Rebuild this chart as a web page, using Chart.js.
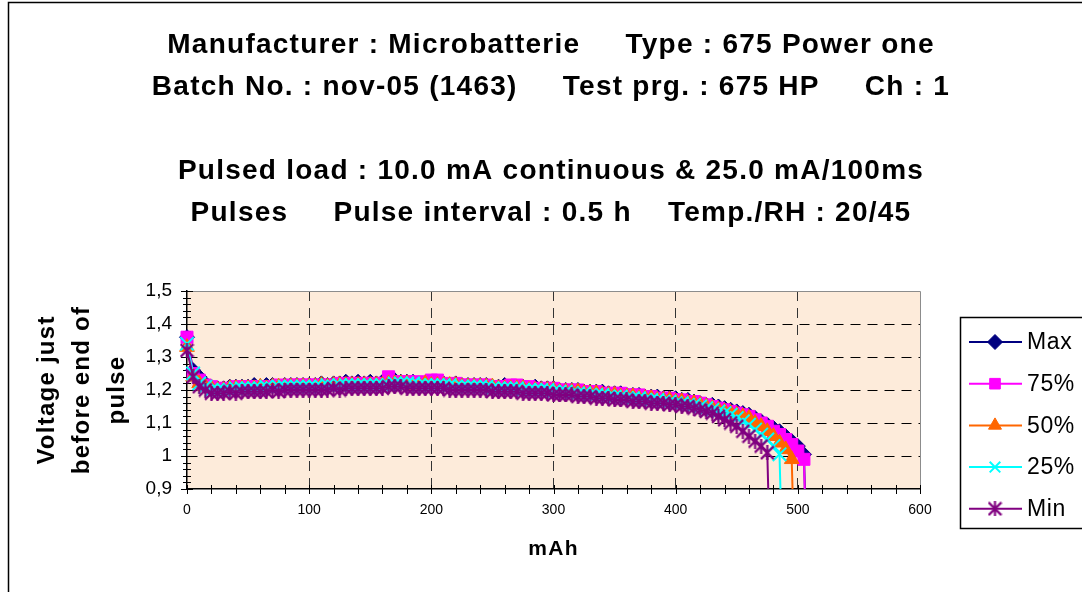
<!DOCTYPE html>
<html><head><meta charset="utf-8">
<script src="https://cdn.jsdelivr.net/npm/chart.js@4.4.0/dist/chart.umd.min.js"></script>
<style>html,body{margin:0;padding:0;background:#fff}#wrap{position:relative;width:1082px;height:592px}</style>
</head><body><div id="wrap"><canvas id="c" width="1082" height="592"></canvas></div>
<script>
// ---------- data ----------
const mAh = [0,5,10,15,20,25,30,35,40,45,
 50,55,60,65,70,75,80,85,90,95,
 100,105,110,115,120,125,130,135,140,145,
 150,155,160,165,170,175,180,185,190,195,
 200,205,210,215,220,225,230,235,240,245,
 250,255,260,265,270,275,280,285,290,295,
 300,305,310,315,320,325,330,335,340,345,
 350,355,360,365,370,375,380,385,390,395,
 400,405,410,415,420,425,430,435,440,445,
 450,455,460,465,470,475,480,485,490,495,
 500,505,510];

const seriesMax = [1.36,1.26,1.24,1.22,1.21,1.205,1.205,1.21,1.21,1.21,
 1.21,1.215,1.21,1.215,1.215,1.21,1.215,1.215,1.215,1.215,
 1.215,1.215,1.22,1.215,1.22,1.22,1.225,1.22,1.225,1.22,
 1.225,1.22,1.225,1.225,1.23,1.225,1.225,1.225,1.22,1.22,
 1.22,1.22,1.22,1.215,1.22,1.215,1.215,1.215,1.215,1.215,
 1.21,1.21,1.215,1.21,1.21,1.21,1.205,1.21,1.205,1.205,
 1.205,1.2,1.2,1.2,1.2,1.195,1.195,1.195,1.195,1.19,
 1.19,1.19,1.185,1.185,1.185,1.18,1.18,1.18,1.175,1.175,
 1.175,1.17,1.17,1.165,1.16,1.155,1.155,1.15,1.145,1.14,
 1.135,1.13,1.125,1.115,1.105,1.095,1.085,1.075,1.06,1.045,
 1.03,1.005,0.3];

const series75 = [1.36,1.25,1.23,1.215,1.21,1.205,1.205,1.205,1.21,1.21,
 1.21,1.21,1.21,1.21,1.21,1.215,1.21,1.215,1.215,1.215,
 1.215,1.215,1.215,1.215,1.215,1.22,1.22,1.22,1.22,1.22,
 1.22,1.22,1.22,1.24,1.225,1.225,1.225,1.225,1.22,1.225,
 1.23,1.23,1.22,1.215,1.22,1.215,1.215,1.215,1.215,1.215,
 1.21,1.21,1.21,1.215,1.215,1.21,1.21,1.205,1.205,1.205,
 1.205,1.2,1.2,1.2,1.2,1.195,1.195,1.195,1.19,1.19,
 1.19,1.19,1.185,1.185,1.185,1.18,1.18,1.175,1.175,1.175,
 1.17,1.17,1.165,1.165,1.16,1.155,1.15,1.145,1.14,1.135,
 1.13,1.125,1.12,1.11,1.10,1.09,1.075,1.065,1.05,1.035,
 1.015,0.99,0.3];

const series50 = [1.33,1.24,1.22,1.21,1.205,1.2,1.2,1.205,1.205,1.205,
 1.205,1.205,1.21,1.205,1.21,1.21,1.21,1.21,1.21,1.21,
 1.21,1.21,1.215,1.21,1.215,1.215,1.215,1.215,1.215,1.215,
 1.215,1.215,1.215,1.22,1.22,1.22,1.22,1.215,1.215,1.22,
 1.215,1.215,1.215,1.215,1.215,1.21,1.21,1.21,1.21,1.21,
 1.21,1.205,1.205,1.205,1.205,1.205,1.2,1.2,1.2,1.2,
 1.2,1.195,1.195,1.195,1.195,1.19,1.19,1.19,1.185,1.185,
 1.185,1.18,1.18,1.18,1.175,1.175,1.175,1.17,1.17,1.17,
 1.165,1.165,1.16,1.16,1.155,1.15,1.145,1.14,1.135,1.13,
 1.125,1.12,1.115,1.10,1.09,1.075,1.06,1.04,1.02,0.99,
 0.3];

const series25 = [1.34,1.25,1.22,1.21,1.2,1.2,1.2,1.2,1.205,1.205,
 1.205,1.205,1.205,1.21,1.205,1.21,1.21,1.21,1.21,1.21,
 1.21,1.21,1.21,1.215,1.21,1.215,1.215,1.215,1.215,1.215,
 1.215,1.215,1.215,1.215,1.22,1.22,1.22,1.22,1.215,1.215,
 1.215,1.215,1.215,1.215,1.21,1.21,1.21,1.21,1.21,1.21,
 1.205,1.205,1.205,1.205,1.205,1.2,1.2,1.2,1.2,1.2,
 1.195,1.195,1.195,1.19,1.19,1.19,1.185,1.185,1.185,1.18,
 1.18,1.18,1.175,1.175,1.175,1.17,1.17,1.17,1.165,1.165,
 1.16,1.16,1.155,1.155,1.15,1.145,1.14,1.135,1.13,1.125,
 1.115,1.105,1.095,1.08,1.065,1.05,1.03,1.005,0.3];

const seriesMin = [1.32,1.24,1.21,1.2,1.19,1.19,1.19,1.195,1.19,1.195,
 1.195,1.195,1.195,1.195,1.2,1.195,1.2,1.2,1.2,1.2,
 1.2,1.2,1.2,1.2,1.205,1.2,1.205,1.205,1.205,1.205,
 1.205,1.205,1.205,1.21,1.21,1.21,1.205,1.205,1.205,1.205,
 1.205,1.205,1.205,1.2,1.2,1.2,1.2,1.2,1.2,1.2,
 1.195,1.195,1.195,1.195,1.195,1.19,1.19,1.19,1.19,1.19,
 1.185,1.185,1.185,1.185,1.18,1.18,1.18,1.175,1.175,1.175,
 1.17,1.17,1.17,1.165,1.165,1.165,1.16,1.16,1.16,1.155,
 1.155,1.15,1.15,1.145,1.14,1.135,1.13,1.12,1.11,1.10,
 1.09,1.075,1.06,1.045,1.03,1.01,0.3];

const seriesNames = ['Max','75%','50%','25%','Min'];
const xTickValues = [0,100,200,300,400,500,600];
const xTickLabels = ['0','100','200','300','400','500','600'];
const yTickValues = [0.9,1.0,1.1,1.2,1.3,1.4,1.5];
const yTickLabels = ['0,9','1','1,1','1,2','1,3','1,4','1,5'];
const titleLines = [
  'Manufacturer : Microbatterie     Type : 675 Power one',
  'Batch No. : nov-05 (1463)     Test prg. : 675 HP     Ch : 1',
  '',
  'Pulsed load : 10.0 mA continuous & 25.0 mA/100ms',
  'Pulses     Pulse interval : 0.5 h    Temp./RH : 20/45'
];
const yTitleLines = ['Voltage just','before end of','pulse'];
const xTitleText = 'mAh';

// ---------- styles ----------
const FONT = "'Liberation Sans', Arial, Helvetica, sans-serif";

function makeAsterisk(color, size, lw) {
  const c = document.createElement('canvas');
  c.width = size; c.height = size;
  const g = c.getContext('2d');
  g.strokeStyle = color; g.lineWidth = lw; g.lineCap = 'butt';
  const m = lw / 2;
  g.beginPath();
  g.moveTo(m, m); g.lineTo(size - m, size - m);
  g.moveTo(size - m, m); g.lineTo(m, size - m);
  g.moveTo(size / 2, 0); g.lineTo(size / 2, size);
  g.stroke();
  return c;
}

const seriesStyles = [
  {color:'#000080', pointStyle:'rectRot', radius:7.5, bw:1},
  {color:'#FF00FF', pointStyle:'rect', radius:8.5, bw:1},
  {color:'#FF6600', pointStyle:'triangle', radius:8.5, bw:1},
  {color:'#00FFFF', pointStyle:'crossRot', radius:9.5, bw:2},
  {color:'#800080', pointStyle:makeAsterisk('#800080', 15, 2.2), radius:8, bw:2.2}
];
const seriesList = [seriesMax, series75, series50, series25, seriesMin];

const datasets = seriesList.map((s, i) => {
  const st = seriesStyles[i];
  return {
    label: seriesNames[i],
    data: s.map((v, k) => ({x: mAh[k], y: v})),
    borderColor: st.color,
    backgroundColor: st.color,
    pointBackgroundColor: st.color,
    pointBorderColor: st.color,
    pointBorderWidth: st.bw,
    pointStyle: st.pointStyle,
    pointRadius: st.radius,
    borderWidth: 2,
    showLine: true,
    fill: false,
    tension: 0,
    order: 5 - i,
    clip: {left: 10, top: 0, right: 0, bottom: 0}
  };
});

const decor = {
  id: 'decor',
  beforeDraw(chart) {
    const {ctx, chartArea: a} = chart;
    ctx.save();
    ctx.fillStyle = '#fff';
    ctx.fillRect(0, 0, chart.width, chart.height);
    ctx.fillStyle = '#FDEBDA';
    ctx.fillRect(a.left, a.top, a.right - a.left, a.bottom - a.top);
    ctx.strokeStyle = '#000';
    ctx.lineWidth = 1.5;
    ctx.beginPath();
    ctx.moveTo(8.5, chart.height + 5);
    ctx.lineTo(8.5, 2.5);
    ctx.lineTo(chart.width + 5, 2.5);
    ctx.stroke();
    ctx.restore();
    ctx.letterSpacing = '1.25px';
  },
  beforeDatasetsDraw(chart) {
    const {ctx, chartArea: a, scales} = chart;
    const xs = scales.x, ys = scales.y;
    ctx.save();
    ctx.strokeStyle = '#8c8c8c';
    ctx.lineWidth = 1;
    ctx.beginPath();
    ctx.moveTo(a.left, a.top + 0.5);
    ctx.lineTo(a.right + 0.5, a.top + 0.5);
    ctx.lineTo(a.right + 0.5, a.bottom);
    ctx.stroke();
    ctx.strokeStyle = '#000';
    ctx.lineWidth = 1;
    ctx.beginPath();
    for (let v = 0; v <= 600.001; v += 20) {
      const px = Math.round(xs.getPixelForValue(v)) + 0.5;
      ctx.moveTo(px, a.bottom - 4);
      ctx.lineTo(px, a.bottom + 5);
    }
    for (let j = 0; j <= 30; j++) {
      const v = 0.9 + j * 0.02;
      const py = Math.round(ys.getPixelForValue(v)) + 0.5;
      const major = (j % 5 === 0);
      ctx.moveTo(a.left - (major ? 6 : 4), py);
      ctx.lineTo(a.left + (major ? 6 : 4), py);
    }
    ctx.stroke();
    ctx.restore();
  },
  afterDatasetsDraw(chart) {
    chart.ctx.letterSpacing = '0px';
  },
  afterDraw(chart) {
    const ctx = chart.ctx;
    ctx.save();
    ctx.letterSpacing = '0.6px';
    ctx.strokeStyle = '#000';
    ctx.lineWidth = 1.5;
    ctx.strokeRect(960.5, 317.5, 140, 211);
    chart.data.datasets.forEach((ds, i) => {
      const y = 342 + i * 41.7;
      ctx.strokeStyle = ds.borderColor;
      ctx.lineWidth = 2;
      ctx.beginPath();
      ctx.moveTo(969, y);
      ctx.lineTo(1022, y);
      ctx.stroke();
      ctx.fillStyle = ds.pointBackgroundColor;
      ctx.strokeStyle = ds.pointBorderColor;
      ctx.lineWidth = ds.pointBorderWidth;
      if (Chart.helpers && Chart.helpers.drawPoint) {
        Chart.helpers.drawPoint(ctx, {pointStyle: ds.pointStyle, radius: Math.min(ds.pointRadius, 7.5), rotation: 0, borderWidth: ds.pointBorderWidth}, 995, y);
      }
      ctx.fillStyle = '#000';
      ctx.font = '23px ' + FONT;
      ctx.textBaseline = 'middle';
      ctx.textAlign = 'left';
      ctx.fillText(ds.label, 1027, y + 1);
    });
    ctx.restore();
  }
};

Chart.defaults.font.family = FONT;
Chart.defaults.color = '#000';

new Chart(document.getElementById('c'), {
  type: 'scatter',
  data: {datasets},
  options: {
    responsive: false,
    animation: false,
    devicePixelRatio: 1,
    layout: {padding: {left: 20, right: 0, top: 0, bottom: 0}},
    plugins: {
      legend: {display: false},
      tooltip: {enabled: false},
      title: {
        display: true,
        fullSize: true,
        text: titleLines,
        color: '#000',
        font: {family: FONT, size: 28, weight: 'bold', lineHeight: 42 / 28},
        padding: {top: 24, bottom: 57}
      }
    },
    scales: {
      x: {
        type: 'linear',
        min: 0, max: 600,
        afterFit(scale) { scale.height = 103; },
        afterBuildTicks(scale) { scale.ticks = xTickValues.map(v => ({value: v})); },
        ticks: {
          z: 1,
          autoSkip: false, maxRotation: 0, padding: 13, color: '#000',
          font: {family: FONT, size: 14},
          callback: (v, i) => xTickLabels[i]
        },
        grid: {
          drawTicks: false,
          lineWidth: 1,
          color: (c) => (c.tick && (c.tick.value === 0 || c.tick.value === 600)) ? 'rgba(0,0,0,0)' : '#333'
        },
        border: {display: true, color: '#000', width: 1.5, dash: [10, 7]},
        title: {
          display: true, text: xTitleText, color: '#000',
          font: {family: FONT, size: 21, weight: 'bold', lineHeight: 1.2},
          padding: {top: 0, bottom: 30}
        }
      },
      y: {
        type: 'linear',
        position: 'left',
        min: 0.9, max: 1.5,
        afterFit(scale) { scale.width = 167; },
        afterBuildTicks(scale) { scale.ticks = yTickValues.map(v => ({value: v})); },
        ticks: {
          z: 1,
          padding: 15, color: '#000',
          font: {family: FONT, size: 19},
          callback: (v, i) => yTickLabels[i]
        },
        grid: {
          drawTicks: false,
          lineWidth: 1,
          color: (c) => (c.tick && (Math.abs(c.tick.value - 1.5) < 1e-6 || Math.abs(c.tick.value - 0.9) < 1e-6)) ? 'rgba(0,0,0,0)' : '#000'
        },
        border: {display: true, color: '#000', width: 1.5, dash: [10, 7]},
        title: {
          display: true, text: yTitleLines, color: '#000',
          font: {family: FONT, size: 24, weight: 'bold', lineHeight: 35 / 24},
          padding: {top: 9.5, bottom: 0}
        }
      },
      legendSpace: {
        type: 'linear',
        position: 'right',
        display: true,
        afterFit(scale) { scale.width = 162; },
        ticks: {display: false},
        grid: {display: false, drawOnChartArea: false},
        border: {display: false}
      }
    }
  },
  plugins: [decor]
});
</script>
</body></html>
